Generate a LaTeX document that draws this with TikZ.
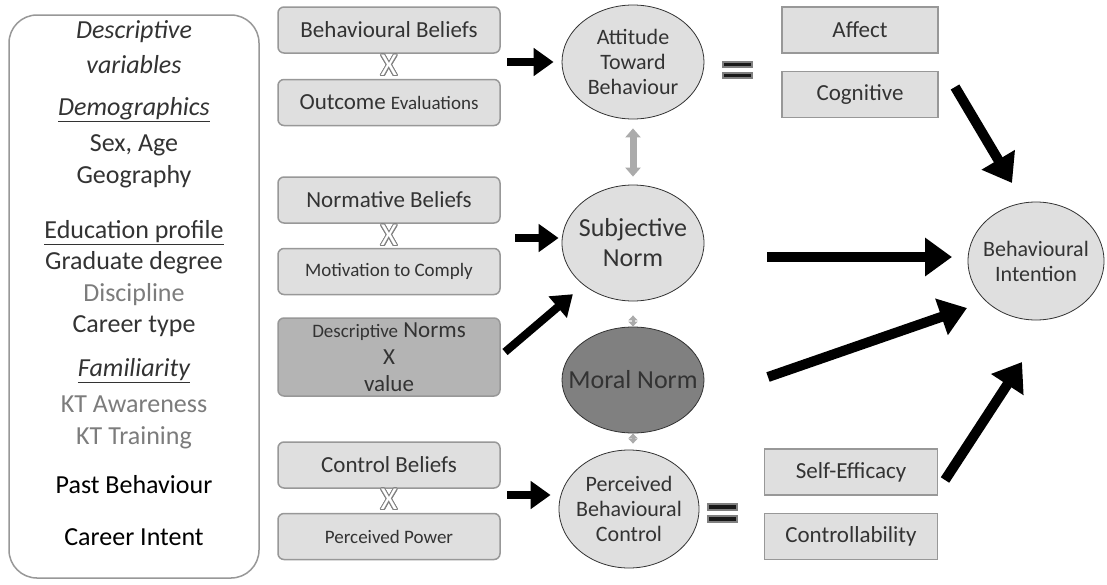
\documentclass[tikz,border=0pt]{standalone}
\usepackage{fontspec}
\setmainfont{Carlito}
\usepackage{contour}
\contourlength{1pt}
\usetikzlibrary{arrows.meta,positioning,shapes.geometric}
\definecolor{boxfill}{HTML}{DFDFDF}
\definecolor{boxline}{HTML}{989898}
\definecolor{darkfill}{HTML}{B4B4B4}
\definecolor{moralfill}{HTML}{808080}
\definecolor{ink}{HTML}{333333}
\definecolor{soft}{HTML}{7C7C7C}
\definecolor{linkgrey}{HTML}{ABABAB}
\newcommand{\sz}[2]{\fontsize{#1}{#2}\selectfont}
\newcommand{\timesmark}{\contour{gray}{\textcolor{white}{X}}}

\begin{document}
\begin{tikzpicture}[
  x=1pt,y=-1pt,
  node distance=24pt,
  belief/.style={draw=boxline,fill=boxfill,rounded corners=6pt,line width=1.5pt,minimum width=222pt,minimum height=46pt,inner sep=0pt,align=center,text=ink,font=\sz{23}{27}},
  part/.style={draw=boxline,fill=boxfill,line width=1.5pt,minimum width=156pt,minimum height=46pt,inner sep=0pt,text=ink,font=\sz{23}{27}},
  construct/.style={ellipse,draw=black!80,fill=boxfill,line width=0.8pt,inner sep=-30pt,align=center,text=ink,minimum width=142pt,minimum height=116pt,font=\sz{22}{25}},
  xmark/.style={inner sep=0pt,font=\sz{32}{32}},
  var/.style={inner sep=0pt,text=ink,font=\sz{26}{28}},
  flow/.style={-{Triangle[length=20pt,width=27pt]},line width=8pt},
  bigflow/.style={-{Triangle[length=27pt,width=37pt]},line width=10pt},
  link/.style={{Triangle[length=9pt,width=15pt]}-{Triangle[length=9pt,width=15pt]},line width=7pt,linkgrey},
  tinylink/.style={{Triangle[length=5pt,width=9pt]}-{Triangle[length=5pt,width=9pt]},line width=3pt,linkgrey}
]
\useasboundingbox[fill=white] (0,0) rectangle (1107,584);

\node[draw=boxline,rounded corners=28pt,line width=1.5pt,minimum width=250pt,minimum height=563pt] (desc) at (134,296.5) {};
\foreach \y/\t [count=\i] in {
  32/{\itshape Descriptive},
  65/{\itshape variables},
  110/{\itshape\underline{Demographics}},
  145/{Sex, Age},
  177/{Geography},
  233/{\underline{Education profile}},
  263/{Graduate degree},
  295/{\color{soft}Discipline},
  326/{Career type},
  371/{\itshape\underline{Familiarity}},
  404/{\color{soft}KT Awareness},
  438/{\color{soft}KT Training},
  485/{\color{black}Past Behaviour},
  537/{\color{black}Career Intent}}
  \node[var] (v\i) at (134,\y) {\t};

\node[belief] (bb) at (389,30) {Behavioural Beliefs};
\node[belief,below=25pt of bb] (oe) {Outcome {\sz{19}{22}Evaluations}};
\node[xmark] (xa) at (389,66) {\timesmark};
\node[belief] (nb) at (389,200) {Normative Beliefs};
\node[belief,below=of nb] (mc) {\sz{19}{22}Motivation to Comply};
\node[xmark] (xb) at (389,236) {\timesmark};
\node[belief,fill=darkfill,minimum height=78pt] (dn) at (389,357) {{\sz{19}{22}Descriptive} Norms\\X\\value};
\node[belief] (cb) at (389,465) {Control Beliefs};
\node[belief,below=of cb] (pp) {\sz{19}{22}Perceived Power};
\node[xmark] (xc) at (389,500) {\timesmark};

\node[construct,minimum height=114pt] (att) at (633,62) {Attitude\\Toward\\Behaviour};
\node[construct,font=\sz{26}{30}] (sn) at (633,243) {Subjective\\Norm};
\node[construct,fill=moralfill,font=\sz{26}{30},minimum height=106pt] (mn) at (633,380) {Moral Norm};
\node[construct,minimum width=140pt,minimum height=118pt] (pbc) at (629,509) {Perceived\\Behavioural\\Control};
\node[construct,minimum width=136pt,minimum height=118pt] (bi) at (1036,261) {Behavioural\\Intention};

\node[part] (aff) at (860,30) {Affect};
\node[part,below=17pt of aff] (cog) {Cognitive};
\node[part,minimum width=173pt] (se) at (851,472) {Self-Efficacy};
\node[part,minimum width=173pt,below=17pt of se] (ctl) {Controllability};

\fill[black!90,draw=gray,line width=1.2pt] (723,62) rectangle (752,67) (723,73) rectangle (752,78);
\fill[black!90,draw=gray,line width=1.2pt] (708,504) rectangle (737,510) (708,516) rectangle (737,522);

\draw[link,shorten <=9pt,shorten >=8pt] (att.south) -- (sn.north);
\draw[tinylink,shorten <=14pt] (sn.south) -- (mn.north);
\draw[tinylink,shorten >=6pt] (mn.south) -- (mn.south |- pbc.north);

\coordinate (a1) at (507,62);
\coordinate (a2) at (515,238);
\coordinate (a3) at (505,352);
\coordinate (a4) at (507,495);
\draw[flow,shorten >=8pt] (a1) -- (att);
\draw[flow,shorten >=3pt] (a2) -- (a2 -| sn.west);
\draw[flow,shorten >=14pt] (a3) -- (sn);
\draw[flow,shorten >=8pt] (a4) -- (a4 -| pbc.west);

\coordinate (b1) at (955,87);
\coordinate (b1e) at (1012,183);
\coordinate (b2) at (767,257);
\coordinate (b2e) at (952,257);
\coordinate (b3) at (768,377);
\coordinate (b3e) at (967,308);
\coordinate (b4) at (945,480);
\coordinate (b4e) at (1022,362);
\draw[bigflow] (b1) -- (b1e);
\draw[bigflow] (b2) -- (b2e);
\draw[bigflow] (b3) -- (b3e);
\draw[bigflow] (b4) -- (b4e);
\end{tikzpicture}
\end{document}
